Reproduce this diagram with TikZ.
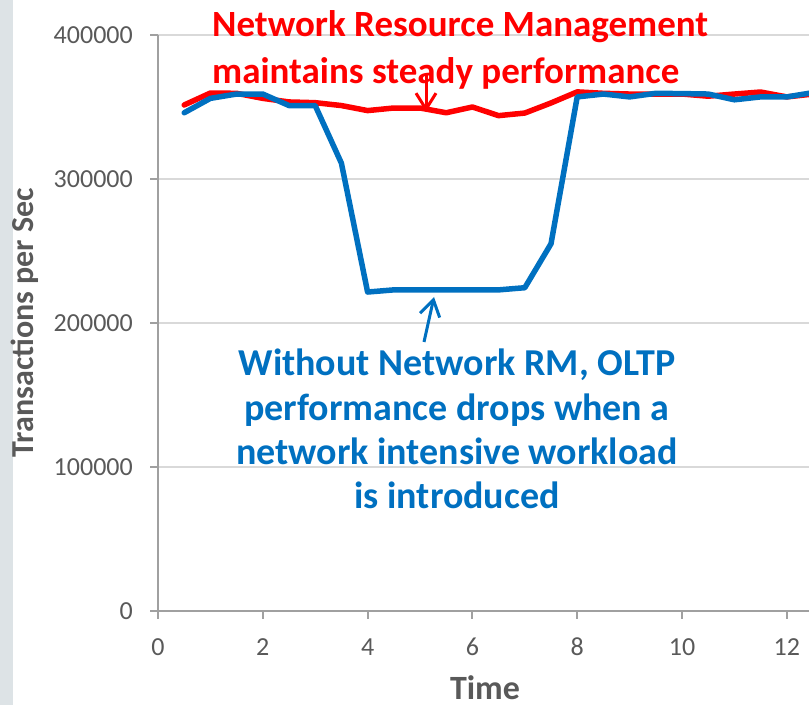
\documentclass[tikz,border=0pt]{standalone}
\usepackage{fontspec}
\setmainfont{Carlito}
\usetikzlibrary{arrows.meta}

\definecolor{sidebar}{RGB}{221,227,230}
\definecolor{gridgray}{RGB}{217,217,217}
\definecolor{axisgray}{RGB}{160,160,160}
\definecolor{labelgray}{RGB}{89,89,89}
\definecolor{rmred}{RGB}{255,0,0}
\definecolor{rmblue}{RGB}{0,112,192}

\tikzset{
  gridln/.style={draw=gridgray, line width=1.2pt},
  axisln/.style={draw=axisgray, line width=2pt},
  ticklbl/.style={font=\fontsize{26}{30}\selectfont, text=labelgray, inner sep=0pt},
  axistitle/.style={font=\fontsize{32}{38}\selectfont\bfseries, text=labelgray, inner sep=0pt},
  series/.style={line width=5.5pt, line join=round, line cap=round},
  note/.style={font=\bfseries, inner sep=0pt},
  pointer/.style={line width=3pt, -{Straight Barb[length=16pt, width=20pt, line width=3pt]}},
}

\begin{document}
\begin{tikzpicture}[x=1pt, y=1pt]
  \useasboundingbox (0,0) rectangle (809,705);
  \clip (0,0) rectangle (809,705);

  % left margin band
  \fill[sidebar] (0,0) rectangle (12.5,705);

  % plot area: origin at t=0, value=0; t in units, values in thousands
  \begin{scope}[shift={(158pt,94pt)}, x=52.4pt, y=1.44pt]
    % horizontal gridlines and value ticks
    \foreach \v in {100,200,300,400} {
      \draw[gridln] (0,\v) -- (13,\v);
    }
    \foreach \v/\lab in {0/0,100/100000,200/200000,300/300000,400/400000} {
      \draw[axisln] (-8pt,\v) -- (0,\v);
      \node[ticklbl, anchor=east] (ylab\v) at ([xshift=-25pt]0,\v) {\lab};
    }
    % axes
    \draw[axisln] (0,0) -- (0,400);
    \draw[axisln] (0,0) -- (13,0);
    \foreach \t in {0,2,...,12} {
      \draw[axisln] (\t,0) -- ([yshift=-8pt]\t,0);
      \node[ticklbl, anchor=base] (xlab\t) at ([yshift=-44pt]\t,0) {\t};
    }

    % with network resource management
    \draw[series, rmred] (0.5,351.4) -- (1,359.7) -- (1.5,359.5) -- (2,356) -- (2.5,353.5)
      -- (3,353) -- (3.5,351) -- (4,347.5) -- (4.5,349.3) -- (5,349.3) -- (5.5,346)
      -- (6,350) -- (6.5,344) -- (7,345.8) -- (7.5,352.8) -- (8,360.5) -- (8.5,359.5)
      -- (9,359) -- (9.5,359) -- (10,359) -- (10.5,357.5) -- (11,359) -- (11.5,360.4)
      -- (12,357) -- (12.5,359);
    % without network resource management
    \draw[series, rmblue] (0.5,346) -- (1,356) -- (1.5,359) -- (2,359) -- (2.5,351)
      -- (3,351) -- (3.5,311) -- (4,221.5) -- (4.5,223) -- (5,223) -- (5.5,223)
      -- (6,223) -- (6.5,223) -- (7,224.5) -- (7.5,255) -- (8,357) -- (8.5,359)
      -- (9,357) -- (9.5,359.5) -- (10,359.3) -- (10.5,359) -- (11,355) -- (11.5,357)
      -- (12,357) -- (12.5,360);
  \end{scope}

  % axis titles
  \node[axistitle, anchor=base, text depth=0pt,
        font=\fontsize{34}{40}\selectfont\bfseries] (xtitle) at (485,6) {Time};
  \node[axistitle, anchor=base, rotate=90] (ytitle) at (33,382.5) {Transactions per Sec};

  % annotations
  \node[note, font=\fontsize{37}{47}\selectfont\bfseries, text=rmred, align=left,
        anchor=north west] (rednote) at (212,695)
    {Network Resource Management\\maintains steady performance};
  \node[note, font=\fontsize{38}{44.3}\selectfont\bfseries, text=rmblue, align=center,
        anchor=north] (bluenote) at (457,356)
    {Without Network RM, OLTP\\performance drops when a\\network intensive workload\\is introduced};

  \coordinate (redtail) at (426,630);
  \coordinate (redtip) at (426,593);
  \coordinate (bluetail) at (424,363);
  \coordinate (bluetip) at (434,408);
  \draw[pointer, rmred] (redtail) -- (redtip);
  \draw[pointer, rmblue] (bluetail) -- (bluetip);
\end{tikzpicture}
\end{document}
